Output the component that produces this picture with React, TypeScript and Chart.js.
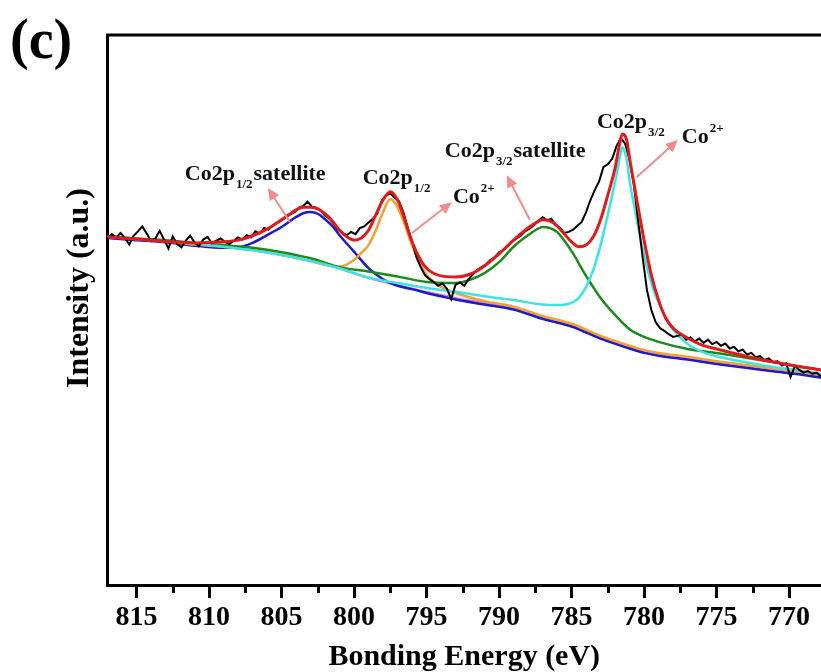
import React, { useEffect, useRef } from 'react';
import { Chart, registerables } from 'chart.js';

Chart.register(...registerables);

// ---- Raw XPS spectrum (binding energy in eV, intensity in a.u.) ----
const RAW_EV = [
  817.0, 816.7, 816.4, 816.1, 815.8, 815.5, 815.2, 814.9, 814.6, 814.3,
  814.0, 813.7, 813.4, 813.1, 812.8, 812.5, 812.2, 811.9, 811.6, 811.3,
  811.0, 810.7, 810.4, 810.1, 809.8, 809.5, 809.2, 808.9, 808.6, 808.3,
  808.0, 807.7, 807.4, 807.1, 806.8, 806.5, 806.2, 805.9, 805.6, 805.3,
  805.0, 804.7, 804.4, 804.1, 803.8, 803.5, 803.2, 802.9, 802.6, 802.3,
  802.0, 801.7, 801.4, 801.1, 800.8, 800.5, 800.2, 799.9, 799.6, 799.3,
  799.0, 798.7, 798.4, 798.1, 797.8, 797.5, 797.2, 796.9, 796.6, 796.3,
  796.0, 795.7, 795.4, 795.1, 794.8, 794.5, 794.2, 793.9, 793.6, 793.3,
  793.0, 792.7, 792.4, 792.1, 791.8, 791.5, 791.2, 790.9, 790.6, 790.3,
  790.0, 789.7, 789.4, 789.1, 788.8, 788.5, 788.2, 787.9, 787.6, 787.3,
  787.0, 786.7, 786.4, 786.1, 785.8, 785.5, 785.2, 784.9, 784.6, 784.3,
  784.0, 783.7, 783.4, 783.1, 782.8, 782.5, 782.2, 781.9, 781.6, 781.3,
  781.0, 780.7, 780.4, 780.1, 779.8, 779.5, 779.2, 778.9, 778.6, 778.3,
  778.0, 777.7, 777.4, 777.1, 776.8, 776.5, 776.2, 775.9, 775.6, 775.3,
  775.0, 774.7, 774.4, 774.1, 773.8, 773.5, 773.2, 772.9, 772.6, 772.3,
  772.0, 771.7, 771.4, 771.1, 770.8, 770.5, 770.2, 769.9, 769.6, 769.3,
  769.0, 768.7, 768.4, 768.1, 767.8,
];
const RAW_I = [
  63.0, 63.8, 63.2, 64.0, 63.1, 61.9, 63.5, 64.3, 65.2, 63.9,
  62.6, 63.0, 64.4, 62.8, 61.2, 63.4, 62.0, 61.4, 62.6, 63.5,
  62.3, 61.6, 62.8, 63.3, 62.1, 62.6, 63.0, 62.4, 62.0, 62.6,
  63.2, 62.8, 63.6, 63.2, 64.3, 63.9, 64.9, 64.6, 65.4, 65.9,
  66.3, 66.9, 67.4, 67.8, 68.6, 68.9, 69.7, 68.8, 68.6, 68.1,
  67.2, 66.6, 65.7, 64.6, 64.0, 63.6, 64.2, 63.8, 64.9, 65.2,
  65.9, 66.6, 67.5, 69.8, 70.8, 71.2, 70.4, 69.8, 67.8, 65.0,
  62.5, 59.6, 57.8, 56.3, 55.6, 55.1, 54.4, 54.8, 53.9, 52.0,
  54.6, 55.0, 54.4, 55.6, 56.5, 57.3, 57.8, 58.3, 59.1, 59.6,
  60.5, 60.9, 61.6, 62.4, 63.0, 63.5, 64.3, 64.8, 65.4, 66.2,
  66.9, 66.3, 66.6, 65.5, 64.9, 64.0, 64.2, 64.6, 65.3, 66.0,
  67.8, 70.0, 71.8, 73.4, 76.0, 76.5, 77.5, 79.8, 81.3, 80.2,
  77.3, 72.7, 66.0, 59.6, 53.6, 50.0, 47.8, 46.7, 46.2, 45.6,
  45.1, 45.3, 45.5, 44.6, 45.0, 44.3, 44.8, 44.0, 44.6, 43.8,
  44.2, 43.5, 43.9, 43.0, 43.3, 42.5, 42.8, 41.9, 42.2, 41.4,
  41.6, 40.9, 41.2, 40.5, 40.7, 39.9, 40.3, 37.8, 39.8, 39.1,
  38.6, 38.9, 38.4, 38.6, 37.9,
];

// ---- Fitted envelope (red) ----
const FIT_EV = [817, 815, 813, 811, 809, 808, 807, 806, 805, 804.5, 804, 803.5, 803, 802.5, 802, 801.5, 801, 800.5, 800, 799.5, 799, 798.5, 798, 797.5, 797, 796.5, 796, 795.5, 795, 794, 793, 792, 791, 790, 789, 788, 787.5, 787, 786.5, 786, 785.5, 785, 784.5, 784, 783.5, 783, 782.5, 782, 781.7, 781.5, 781.2, 781, 780.5, 780, 779.5, 779, 778.5, 778, 777, 776, 775, 773, 771, 769, 767.8];
const FIT_I = [63.3, 62.9, 62.5, 62.2, 62.4, 62.7, 63.5, 64.7, 66.4, 67.3, 68.2, 68.7, 68.7, 68.4, 67.5, 66.2, 64.5, 63.3, 62.7, 63.1, 64.5, 67.3, 70.0, 71.5, 70.0, 66.4, 62.4, 59.5, 57.6, 56.2, 56.0, 56.5, 58.0, 60.2, 62.7, 64.9, 65.8, 66.4, 66.2, 65.3, 63.8, 62.4, 61.5, 61.8, 63.3, 66.4, 70.9, 75.8, 80.0, 82.0, 80.9, 77.6, 70.0, 62.7, 56.4, 51.8, 48.5, 46.7, 44.9, 43.6, 42.9, 41.6, 40.5, 39.6, 39.1];

// ---- Co2p3/2 Co2+ component (cyan) ----
const P32_EV = [817, 813, 809, 805, 801, 799, 797, 795, 793, 791, 789, 787, 786, 785, 784.5, 784, 783.5, 783, 782.5, 782, 781.7, 781.5, 781.2, 781, 780.5, 780, 779.5, 779, 778.5, 778, 777, 776, 775, 773, 771, 769, 767.8];
const P32_I = [63.3, 62.5, 61.5, 60.0, 57.6, 55.9, 54.9, 54.0, 53.3, 52.5, 51.8, 51.0, 50.9, 51.3, 52.2, 54.2, 57.3, 61.8, 67.3, 73.3, 77.3, 79.6, 77.3, 73.6, 66.4, 60.0, 54.9, 51.3, 48.5, 46.4, 43.8, 42.4, 41.6, 40.5, 39.6, 38.9, 38.4];

// ---- Co2p3/2 satellite component (green) ----
const SAT32_EV = [817, 815, 813, 811, 809, 807, 805, 803, 801, 799, 797, 795, 793, 792, 791, 790, 789, 788, 787.5, 787, 786.5, 786, 785, 784, 783, 782, 781, 780, 779, 777, 775, 773, 771, 769, 767.8];
const SAT32_I = [63.4, 63.0, 62.7, 62.2, 61.8, 61.3, 60.5, 59.4, 57.8, 57.0, 56.1, 55.1, 54.9, 55.5, 56.7, 58.7, 61.5, 63.6, 64.5, 65.1, 64.9, 64.2, 60.7, 56.2, 52.2, 49.1, 46.5, 45.1, 44.2, 42.9, 42.2, 41.3, 40.5, 39.6, 39.1];

// ---- Co2p1/2 Co2+ component (orange) ----
const P12_EV = [817, 815, 813, 811, 809, 807, 805, 803, 802, 801, 800, 799.5, 799, 798.5, 798, 797.5, 797, 796.5, 796, 795.5, 795, 794, 793, 791, 789, 787, 785, 783, 781, 780, 779, 777, 775, 773, 771, 769, 767.8];
const P12_I = [63.3, 62.9, 62.5, 61.9, 61.5, 60.9, 60.0, 58.9, 58.2, 57.9, 59.1, 60.4, 61.8, 64.5, 67.8, 70.2, 68.7, 65.5, 61.8, 58.7, 56.4, 54.2, 53.1, 51.6, 50.6, 48.9, 47.5, 45.3, 43.5, 42.7, 42.2, 41.5, 40.7, 40.0, 39.3, 38.7, 38.2];

// ---- Co2p1/2 satellite component (blue) ----
const SAT12_EV = [817, 815, 813, 811, 809, 808, 807, 806, 805, 804.5, 804, 803.5, 803, 802.5, 802, 801.5, 801, 800, 799, 798, 797, 796, 795, 794, 793, 791, 789, 787, 785, 783, 781, 780, 779, 777, 775, 773, 771, 769, 767.8];
const SAT12_I = [63.1, 62.7, 62.3, 61.7, 61.3, 61.4, 62.2, 63.6, 65.1, 66.0, 66.9, 67.6, 67.8, 67.5, 66.5, 65.3, 63.6, 60.6, 57.6, 55.6, 54.4, 53.8, 53.1, 52.5, 51.9, 51.0, 50.1, 48.4, 47.0, 44.8, 43.0, 42.2, 41.7, 41.0, 40.2, 39.5, 38.8, 38.2, 37.7];

// ---- Shirley background ----
const BG_EV = [817, 815, 813, 811, 809, 807, 805, 803, 801, 799, 797, 795, 793, 791, 789, 787, 785, 783, 782, 781, 780, 779, 777, 775, 773, 771, 769, 767.8];
const BG_I = [63.3, 62.9, 62.5, 61.9, 61.5, 60.9, 60.0, 58.9, 57.5, 55.8, 54.5, 53.3, 52.2, 51.3, 50.4, 48.7, 47.3, 45.1, 44.2, 43.3, 42.5, 42.0, 41.3, 40.5, 39.8, 39.1, 38.5, 38.0];

// ---- Axis ----
const X_MIN = 767.8;
const X_MAX = 817;
const Y_MIN = 0;
const Y_MAX = 100;
const MAJOR_STEP = 5;
const MINOR_TICKS = [812.5, 807.5, 802.5, 797.5, 792.5, 787.5, 782.5, 777.5, 772.5];
const X_TITLE = 'Bonding Energy (eV)';
const Y_TITLE = 'Intensity (a.u.)';
const PANEL = '(c)';

// ---- Annotations (anchored in data units) ----
const LABELS = [
  { ev: 811.67, i: 73.6, main: 'Co2p', sub: '1/2', tail: 'satellite' },
  { ev: 799.4, i: 72.9, main: 'Co2p', sub: '1/2' },
  { ev: 793.18, i: 69.45, main: 'Co', sup: '2+' },
  { ev: 793.74, i: 77.8, main: 'Co2p', sub: '3/2', tail: 'satellite' },
  { ev: 783.25, i: 83.1, main: 'Co2p', sub: '3/2' },
  { ev: 777.4, i: 80.4, main: 'Co', sup: '2+' },
];
const ARROWS = [
  { ev1: 804.43, i1: 66.0, ev2: 805.94, i2: 72.2 },
  { ev1: 796.0, i1: 64.0, ev2: 793.26, i2: 69.6 },
  { ev1: 787.88, i1: 66.4, ev2: 789.47, i2: 74.5 },
  { ev1: 780.5, i1: 74.2, ev2: 777.67, i2: 80.9 },
];

const SERIF = '"Liberation Serif", "Times New Roman", serif';

const pts = (xs: number[], ys: number[]) => xs.map((x, k) => ({ x, y: ys[k] }));

function drawArrow(ctx: CanvasRenderingContext2D, x1: number, y1: number, x2: number, y2: number) {
  const a = Math.atan2(y2 - y1, x2 - x1);
  const L = 12;
  const W = 5.5;
  ctx.beginPath();
  ctx.moveTo(x1, y1);
  ctx.lineTo(x2 - L * 0.8 * Math.cos(a), y2 - L * 0.8 * Math.sin(a));
  ctx.stroke();
  ctx.beginPath();
  ctx.moveTo(x2, y2);
  ctx.lineTo(x2 - L * Math.cos(a) + W * Math.sin(a), y2 - L * Math.sin(a) - W * Math.cos(a));
  ctx.lineTo(x2 - L * Math.cos(a) - W * Math.sin(a), y2 - L * Math.sin(a) + W * Math.cos(a));
  ctx.closePath();
  ctx.fill();
}

const decorPlugin = {
  id: 'decor',
  afterDraw(chart: any) {
    const { ctx, chartArea, scales } = chart;
    const xs = scales.x;
    const ys = scales.y;
    ctx.save();
    // top frame line
    ctx.strokeStyle = '#000';
    ctx.lineWidth = 3;
    ctx.beginPath();
    ctx.moveTo(chartArea.left - 1.5, chartArea.top);
    ctx.lineTo(chartArea.right, chartArea.top);
    ctx.stroke();
    // minor ticks
    MINOR_TICKS.forEach((v) => {
      const px = Math.round(xs.getPixelForValue(v)) + 0.5;
      ctx.beginPath();
      ctx.moveTo(px, chartArea.bottom);
      ctx.lineTo(px, chartArea.bottom + 8);
      ctx.stroke();
    });
    // arrows
    ctx.strokeStyle = '#f28c8c';
    ctx.fillStyle = '#f28c8c';
    ctx.lineWidth = 2;
    ARROWS.forEach((a) => {
      drawArrow(ctx, xs.getPixelForValue(a.ev1), ys.getPixelForValue(a.i1), xs.getPixelForValue(a.ev2), ys.getPixelForValue(a.i2));
    });
    // labels
    ctx.fillStyle = '#111';
    ctx.textBaseline = 'alphabetic';
    ctx.textAlign = 'left';
    LABELS.forEach((l: any) => {
      let x = xs.getPixelForValue(l.ev);
      const y = ys.getPixelForValue(l.i);
      ctx.font = `bold 22px ${SERIF}`;
      ctx.fillText(l.main, x, y);
      x += ctx.measureText(l.main).width + 1;
      if (l.sub) {
        ctx.font = `bold 13px ${SERIF}`;
        ctx.fillText(l.sub, x, y + 8);
        x += ctx.measureText(l.sub).width + 1;
      }
      if (l.sup) {
        ctx.font = `bold 13px ${SERIF}`;
        ctx.fillText(l.sup, x, y - 11);
      }
      if (l.tail) {
        ctx.font = `bold 22px ${SERIF}`;
        ctx.fillText(l.tail, x, y);
      }
    });
    // panel letter
    ctx.fillStyle = '#000';
    ctx.font = `bold 56px ${SERIF}`;
    ctx.fillText(PANEL, 10, 58);
    // y title
    ctx.translate(80, 288);
    ctx.rotate(-Math.PI / 2);
    ctx.textAlign = 'center';
    ctx.textBaseline = 'middle';
    ctx.font = `bold 32px ${SERIF}`;
    ctx.fillText(Y_TITLE, 0, 0);
    ctx.restore();
  },
};

export default function App() {
  const ref = useRef<HTMLCanvasElement | null>(null);
  useEffect(() => {
    if (!ref.current) return;
    const line = (label: string, data: any[], color: string, width: number, smooth: boolean) => ({
      label,
      data,
      borderColor: color,
      backgroundColor: color,
      borderWidth: width,
      pointRadius: 0,
      fill: false,
      tension: 0,
      cubicInterpolationMode: smooth ? 'monotone' : 'default',
    });
    const chart = new Chart(ref.current, {
      type: 'line',
      data: {
        datasets: [
          line('Fit', pts(FIT_EV, FIT_I), '#e01b1b', 3, true),
          line('Raw', pts(RAW_EV, RAW_I), '#000000', 2, false),
          line('Co2p3/2', pts(P32_EV, P32_I), '#3fe3e3', 2.5, true),
          line('Co2p3/2 sat', pts(SAT32_EV, SAT32_I), '#1d8a1d', 2.5, true),
          line('Co2p1/2', pts(P12_EV, P12_I), '#f4a032', 2.5, true),
          line('Co2p1/2 sat', pts(SAT12_EV, SAT12_I), '#1c1cc4', 2.5, true),
          line('Background', pts(BG_EV, BG_I), '#d57be6', 2, true),
        ] as any,
      },
      options: {
        animation: false,
        responsive: false,
        devicePixelRatio: 1,
        events: [],
        layout: { padding: { top: 35, left: 0, right: 0, bottom: 0 } },
        plugins: { legend: { display: false }, tooltip: { enabled: false } },
        scales: {
          x: {
            type: 'linear',
            reverse: true,
            min: X_MIN,
            max: X_MAX,
            afterFit: (s: any) => { s.height = 87; },
            border: { display: true, width: 3, color: '#000' },
            grid: { display: true, drawOnChartArea: false, drawTicks: true, tickLength: 13, tickWidth: 3, tickColor: '#000', color: '#000' },
            ticks: {
              stepSize: MAJOR_STEP,
              includeBounds: false,
              autoSkip: false,
              maxRotation: 0,
              padding: 3,
              color: '#000',
              font: { family: SERIF, size: 28, weight: 'bold' },
            },
            title: {
              display: true,
              text: X_TITLE,
              color: '#000',
              font: { family: SERIF, size: 30, weight: 'bold' },
              padding: { top: 0, bottom: -3 },
            },
          },
          y: {
            type: 'linear',
            min: Y_MIN,
            max: Y_MAX,
            afterFit: (s: any) => { s.width = 107.5; },
            border: { display: true, width: 3, color: '#000' },
            grid: { display: false },
            ticks: { display: false },
          },
        },
      } as any,
      plugins: [decorPlugin],
    });
    return () => chart.destroy();
  }, []);
  return (
    <div style={{ position: 'fixed', left: 0, top: 0, width: 821, height: 672, background: '#fff' }}>
      <canvas ref={ref} width={821} height={672} style={{ width: 821, height: 672, display: 'block' }} />
    </div>
  );
}
